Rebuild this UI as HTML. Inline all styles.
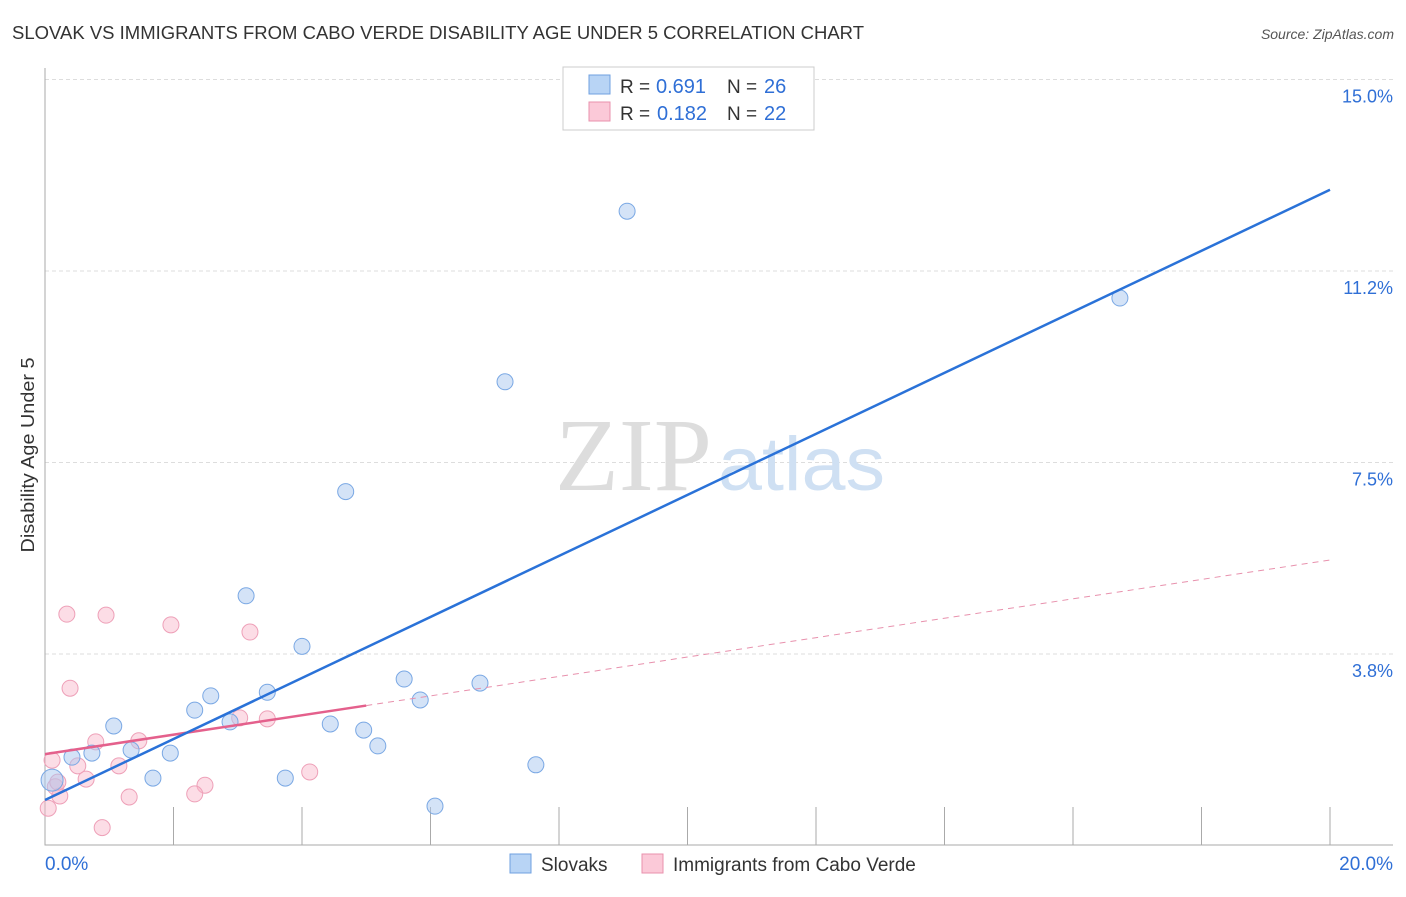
<!DOCTYPE html>
<html><head><meta charset="utf-8"><style>
body{margin:0;background:#fff;font-family:"Liberation Sans",sans-serif;}
</style></head><body>
<svg width="1406" height="892" xmlns="http://www.w3.org/2000/svg" font-family="Liberation Sans, sans-serif">
<text x="12" y="39" font-size="18" textLength="852" lengthAdjust="spacingAndGlyphs" fill="#333">SLOVAK VS IMMIGRANTS FROM CABO VERDE DISABILITY AGE UNDER 5 CORRELATION CHART</text>
<text x="1394" y="39" font-size="14" fill="#555" font-style="italic" text-anchor="end">Source: ZipAtlas.com</text>
<g id="grid"></g>
<text x="555" y="490" font-size="104" textLength="157" lengthAdjust="spacingAndGlyphs" fill="#ddd" font-family="Liberation Serif, serif">ZIP</text>
<text x="718" y="490" font-size="76" textLength="167" lengthAdjust="spacingAndGlyphs" fill="#cfe0f3">atlas</text>
<text x="34" y="455" font-size="18" textLength="195" lengthAdjust="spacingAndGlyphs" fill="#333" text-anchor="middle" transform="rotate(-90 34 455)">Disability Age Under 5</text>
<g id="marks"></g>
<g>
<rect x="563" y="67" width="251" height="63" fill="#fff" stroke="#ccc"/>
<rect x="589" y="75" width="21" height="19" fill="#b8d4f5" stroke="#6fa0e0"/>
<text x="620" y="93" font-size="19" fill="#333">R =</text>
<text x="656" y="93" font-size="20" fill="#2f6fd6">0.691</text>
<text x="727" y="93" font-size="19" fill="#333">N =</text>
<text x="764" y="93" font-size="20" fill="#2f6fd6">26</text>
<rect x="589" y="102" width="21" height="19" fill="#fbc9d8" stroke="#e891ad"/>
<text x="620" y="120" font-size="19" fill="#333">R =</text>
<text x="657" y="120" font-size="20" fill="#2f6fd6">0.182</text>
<text x="727" y="120" font-size="19" fill="#333">N =</text>
<text x="764" y="120" font-size="20" fill="#2f6fd6">22</text>
</g>
<rect x="510" y="854" width="21" height="19" fill="#b8d4f5" stroke="#6fa0e0"/>
<text x="541" y="871" font-size="19" fill="#333">Slovaks</text>
<rect x="642" y="854" width="21" height="19" fill="#fbc9d8" stroke="#e891ad"/>
<text x="673" y="871" font-size="19" fill="#333">Immigrants from Cabo Verde</text>
</svg>
<script>
const blueX=[9.06,16.73,7.16,4.68,3.13,4.00,5.59,5.84,6.77,3.46,2.58,2.33,1.07,2.88,4.44,4.96,1.34,1.95,5.18,0.42,0.73,7.64,1.68,3.74,6.07,0.11];
const blueY=[12.42,10.72,9.08,6.93,4.89,3.90,3.26,2.85,3.18,3.00,2.93,2.65,2.34,2.42,2.38,2.26,1.87,1.81,1.95,1.73,1.81,1.58,1.32,1.32,0.77,1.28];
const pinkX=[0.34,0.95,1.96,3.19,0.39,3.46,3.03,1.46,0.79,0.51,1.15,0.64,4.12,2.49,2.33,1.31,0.23,0.16,0.05,0.89,0.11,0.20];
const pinkY=[4.53,4.51,4.32,4.18,3.08,2.48,2.50,2.05,2.03,1.56,1.56,1.30,1.44,1.18,1.01,0.95,0.97,1.15,0.73,0.35,1.67,1.24];
const yTicks=[3.75,7.5,11.25,15];
const yTickLabels=["3.8%","7.5%","11.2%","15.0%"];
const xTicks=[0,2,4,6,8,10,12,14,16,18,20];
const blueLine=[0.89,12.84];
const pinkLine=[1.79,5.59];
const pinkSolidEnd=5.0;
const NS="http://www.w3.org/2000/svg";
const X=v=>45+v*64.25, Y=v=>845.5-v*51.07;
function mk(p,t,a){const e=document.createElementNS(NS,t);for(const k in a)e.setAttribute(k,a[k]);p.appendChild(e);return e;}
const g=document.getElementById('grid'), m=document.getElementById('marks');
yTicks.forEach((t,i)=>{
 const l=mk(g,'line',{x1:45,x2:1393,y1:Y(t),y2:Y(t),stroke:'#ddd','stroke-dasharray':'4,3'});
 
 
 const tx=mk(g,'text',{x:1393,y:Y(t)+23,'font-size':18,fill:'#2f6fd6','text-anchor':'end'});
 tx.textContent=yTickLabels[i];
 
 
});
const ax=mk(g,'path',{d:'M45 68V845H1393',stroke:'#aaa',fill:'none'});


xTicks.forEach(t=>{
 const l=mk(g,'line',{x1:X(t),x2:X(t),y1:807,y2:845,stroke:'#aaa'});
 
 
});
const xl0=mk(g,'text',{x:45,y:870,'font-size':19,fill:'#2f6fd6'});xl0.textContent='0.0%';


const xl1=mk(g,'text',{x:1393,y:870,'font-size':19,fill:'#2f6fd6','text-anchor':'end'});xl1.textContent='20.0%';


pinkX.forEach((x,i)=>{
 const c=mk(m,'circle',{cx:X(x),cy:Y(pinkY[i]),r:8,fill:'rgba(248,180,200,0.45)',stroke:'#eea0b8'});
 
 
});
blueX.forEach((x,i)=>{
 const c=mk(m,'circle',{cx:X(x),cy:Y(blueY[i]),r:i==25?11:8,fill:'rgba(170,200,240,0.5)',stroke:'#7aa8e4'});
 
 
});
const pf=v=>pinkLine[0]+(pinkLine[1]-pinkLine[0])*v/20;
const pd=mk(m,'line',{x1:X(pinkSolidEnd),y1:Y(pf(pinkSolidEnd)),x2:X(20),y2:Y(pinkLine[1]),stroke:'#e891ad','stroke-dasharray':'6,5'});


const ps=mk(m,'line',{x1:X(0),y1:Y(pinkLine[0]),x2:X(pinkSolidEnd),y2:Y(pf(pinkSolidEnd)),stroke:'#e4608c','stroke-width':2.5});


const bl=mk(m,'line',{x1:X(0),y1:Y(blueLine[0]),x2:X(20),y2:Y(blueLine[1]),stroke:'#2a72d8','stroke-width':2.5});


</script>
</body></html>
